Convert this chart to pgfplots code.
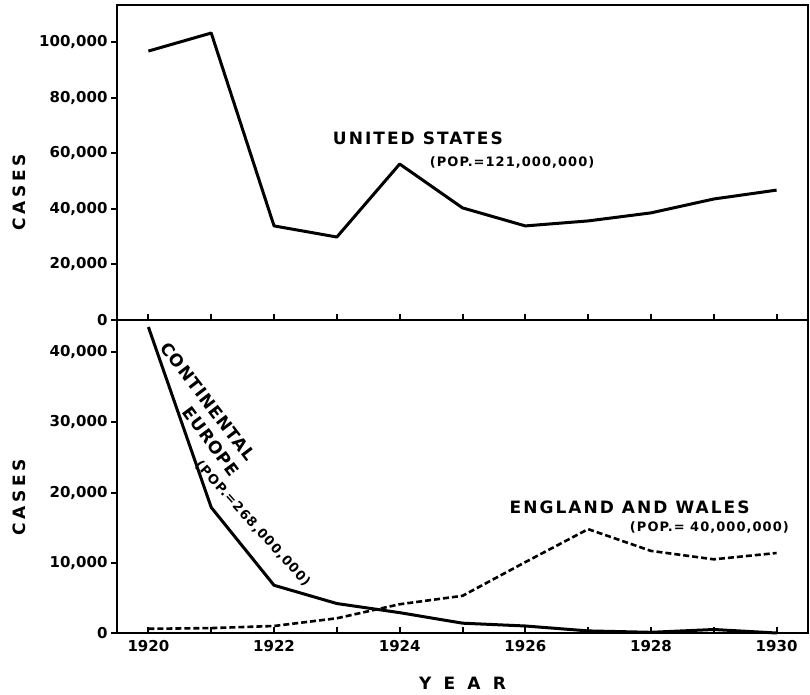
\documentclass[border=0pt]{standalone}
\usepackage{fontspec}
\setmainfont{DejaVu Sans}
\newfontfamily\spacedA{DejaVu Sans}[LetterSpace=12]
\newfontfamily\spacedE{DejaVu Sans}[LetterSpace=6]
\newfontfamily\spacedB{DejaVu Sans}[LetterSpace=8]
\newfontfamily\spacedC{DejaVu Sans}[LetterSpace=22]
\newfontfamily\spacedD{DejaVu Sans}[LetterSpace=72]
\usepackage{pgfplots}
\pgfplotsset{compat=1.18}
\begin{document}
\begin{tikzpicture}
\pgfplotsset{
  common/.style={
    scale only axis, width=691pt,
    xmin=1919.5, xmax=1930.5,
    xtick={1920,1921,...,1930},
    axis line style={line width=2.4pt},
    tick style={line width=2pt, black},
    major tick length=6pt,
    xtick align=inside, ytick align=outside,
    xtick pos=bottom, ytick pos=left,
    scaled y ticks=false,
    /pgf/number format/assume math mode=true,
    yticklabel style={/pgf/number format/.cd, fixed, 1000 sep={,}},
    xticklabel style={yshift=-4pt},
    ticklabel style={font=\fontsize{15}{18}\selectfont\bfseries},
    clip=false,
  }
}
\begin{axis}[common, name=top, height=315pt,
  at={(0,0)}, anchor=south west,
  ymin=0, ymax=113500,
  ytick={0,20000,40000,60000,80000,100000},
  xticklabels={},
]
\addplot[black, line width=3pt, line join=round] coordinates {
(1920,96900) (1921,103400) (1922,33900) (1923,29900) (1924,56200) (1925,40400)
(1926,33900) (1927,35700) (1928,38600) (1929,43600) (1930,46800)};
\node[inner sep=1pt, font=\fontsize{17}{20}\selectfont\spacedA\bfseries] at (axis cs:1924.29,65600) {UNITED STATES};
\node[inner sep=1pt, font=\fontsize{13}{15}\selectfont\spacedB\bfseries] at (axis cs:1925.79,56900) {(POP.=121,000,000)};
\node[rotate=90, font=\fontsize{17}{20}\selectfont\spacedC\bfseries] at ([xshift=-98pt]rel axis cs:0,0.406) {CASES};
\coordinate (TL) at (rel axis cs:0,1);
\end{axis}
\begin{axis}[common, name=bot, height=313pt,
  at={(top.south west)}, anchor=north west,
  ymin=0, ymax=44600,
  ytick={0,10000,20000,30000,40000},
  xticklabels={1920,,1922,,1924,,1926,,1928,,1930},
]
\addplot[black, line width=3pt, line join=round] coordinates {
(1920,43600) (1921,17900) (1922,6800) (1923,4200) (1924,2900) (1925,1400)
(1926,1000) (1927,300) (1928,100) (1929,500) (1930,0)};
\addplot[black, line width=2.6pt, dash pattern=on 6pt off 3pt] coordinates {
(1920,600) (1921,700) (1922,1000) (1923,2100) (1924,4100) (1925,5300)
(1926,10100) (1927,14800) (1928,11700) (1929,10500) (1930,11400)};
\node[inner sep=1pt, font=\fontsize{17}{20}\selectfont\spacedA\bfseries] at (axis cs:1927.66,17950) {ENGLAND AND WALES};
\node[inner sep=1pt, font=\fontsize{13}{15}\selectfont\spacedB\bfseries] at (axis cs:1928.93,15100) {(POP.= 40,000,000)};
\node[inner sep=0pt, rotate=-52.6, font=\fontsize{17}{20}\selectfont\spacedE\bfseries] at (axis cs:1920.95,33000) {CONTINENTAL};
\node[inner sep=0pt, rotate=-53.6, font=\fontsize{17}{20}\selectfont\spacedE\bfseries] at (axis cs:1921.0,27300) {EUROPE};
\node[inner sep=0pt, rotate=-48, font=\fontsize{13}{15}\selectfont\spacedB\bfseries] at (axis cs:1921.66,15600) {(POP.=268,000,000)};
\node[rotate=90, font=\fontsize{17}{20}\selectfont\spacedC\bfseries] at ([xshift=-98pt]rel axis cs:0,0.434) {CASES};
\node[font=\fontsize{17}{20}\selectfont\spacedD\bfseries] at ([yshift=-50pt]rel axis cs:0.5,0) {YEAR};
\coordinate (BR) at (rel axis cs:1,0);
\end{axis}
\pgfresetboundingbox
\useasboundingbox ([xshift=-117pt,yshift=5pt]TL) rectangle ([xshift=2pt,yshift=-61pt]BR);
\end{tikzpicture}
\end{document}
